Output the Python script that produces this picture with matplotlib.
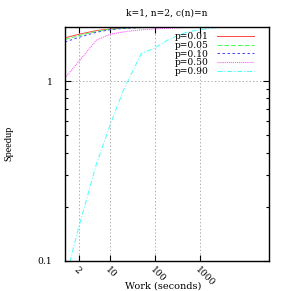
import matplotlib
matplotlib.use('Agg')
import matplotlib.pyplot as plt
from matplotlib.ticker import FixedLocator, NullFormatter

# speedup vs. work, one series per p
work = [1, 2, 5, 10, 20, 50, 100, 200, 500, 1000, 2000, 5000, 10000, 20000]
p001 = [1.74, 1.82, 1.91, 1.95, 1.975, 1.99, 1.995, 2.0, 2.0, 2.0, 2.0, 2.0, 2.0, 2.0]
p005 = [1.70, 1.79, 1.89, 1.94, 1.97, 1.985, 1.99, 2.0, 2.0, 2.0, 2.0, 2.0, 2.0, 2.0]
p010 = [1.65, 1.75, 1.87, 1.93, 1.965, 1.985, 1.99, 2.0, 2.0, 2.0, 2.0, 2.0, 2.0, 2.0]
p050 = [1.04, 1.28, 1.69, 1.82, 1.88, 1.93, 1.95, 1.97, 1.99, 2.0, 2.0, 2.0, 2.0, 2.0]
p090 = [0.077, 0.152, 0.345, 0.565, 0.89, 1.42, 1.53, 1.70, 1.87, 1.93, 1.98, 2.0, 2.0, 2.0]

labels = ['p=0.01', 'p=0.05', 'p=0.10', 'p=0.50', 'p=0.90']
colors = ['#ff4d4d', '#4dff4d', '#4d4dff', '#ff4dff', '#4dffff']
dashes = [None, (3.4, 1.5), (1.8, 1.8), (0.7, 0.7), (3.6, 1.4, 0.7, 1.4)]

xticks = [2, 10, 100, 1000]
yticks = [0.1, 1]
yminor = [0.2, 0.3, 0.4, 0.5, 0.6, 0.7, 0.8, 0.9]

plt.rcParams['font.family'] = 'DejaVu Serif'
plt.rcParams['font.size'] = 6.6
plt.rcParams['lines.scale_dashes'] = False

fig = plt.figure(figsize=(2.91, 2.91), dpi=100)
ax = fig.add_axes([65/291, 1 - 260.7/291, 204/291, 233.7/291])

series = [p001, p005, p010, p050, p090]
for vals, lab, col, d in zip(series, labels, colors, dashes):
    line, = ax.plot(work, vals, color=col, linewidth=0.75, label=lab)
    if d is not None:
        line.set_dashes(d)

ax.set_xscale('log')
ax.set_yscale('log')
ax.set_xlim(1, 35000)
ax.set_ylim(0.1, 2)

ax.xaxis.set_major_locator(FixedLocator(xticks))
ax.set_xticklabels([str(t) for t in xticks], rotation=-45, ha='left', va='top',
                   rotation_mode='anchor')
ax.xaxis.set_minor_locator(FixedLocator([]))
ax.yaxis.set_major_locator(FixedLocator(yticks))
ax.set_yticklabels(['0.1', '1'])
ax.yaxis.set_minor_locator(FixedLocator(yminor))
ax.yaxis.set_minor_formatter(NullFormatter())

ax.tick_params(which='major', direction='in', length=4, width=0.8, top=True, right=True, pad=3)
ax.tick_params(axis='y', which='major', pad=9)
ax.tick_params(which='minor', direction='in', length=2.2, width=0.8, right=True)
for s in ax.spines.values():
    s.set_linewidth(1.0)

ax.grid(True, which='major', color='#a0a0a0', linestyle=(0, (1, 1.5)), linewidth=0.6)

ax.set_ylabel('Speedup', family='Liberation Serif', fontsize=7.4)
ax.yaxis.set_label_coords(-0.255, 0.5)
ax.set_xlabel('Work (seconds)', fontsize=7.0)
ax.xaxis.set_label_coords(0.48, -0.09)

fig.text(167/291, 1 - 13/291, 'k=1, n=2, c(n)=n', ha='center', va='center')

ax.legend(loc='upper right', bbox_to_anchor=(0.926, 0.979), frameon=False,
          markerfirst=False, handlelength=4.0, handletextpad=0.9,
          labelspacing=-0.02, borderpad=0, borderaxespad=0)

plt.savefig('out.png', dpi=100)
